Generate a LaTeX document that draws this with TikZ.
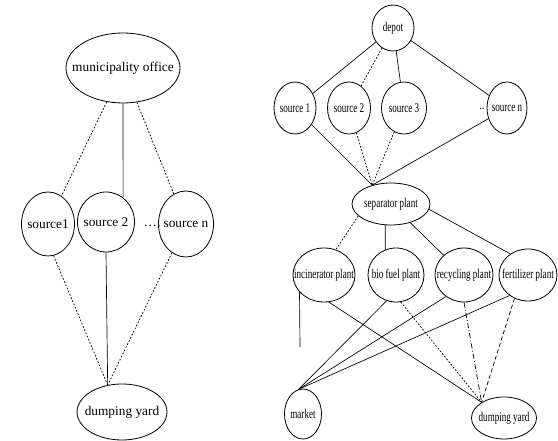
\documentclass[tikz,border=0pt]{standalone}
\usepackage{fontspec}
\setmainfont{Liberation Serif}
\usetikzlibrary{shapes.geometric}
\tikzset{
  el/.style 2 args={ellipse, draw, line width=0.6pt, minimum width=#1*0.75pt, minimum height=#2*0.75pt, inner sep=0pt, font=\fontsize{10}{12}\selectfont},
  conn/.style={line width=0.5pt},
  dots/.style={line width=0.55pt, dash pattern=on 1.3pt off 1.3pt},
  dashln/.style={line width=0.55pt, dash pattern=on 3pt off 2pt},
  dashdot/.style={line width=0.55pt, dash pattern=on 4pt off 1.5pt on 0.8pt off 1.5pt},
  plain/.style={inner sep=0pt, font=\fontsize{10}{12}\selectfont}
}
\newcommand{\nt}[1]{\makebox[0pt]{#1}}
\newcommand{\rt}[1]{\makebox[0pt]{\scalebox{0.68}[1]{#1}}}
\begin{document}
\begin{tikzpicture}[x=0.75pt, y=-0.75pt]
\useasboundingbox (0,0) rectangle (558,441);
\fill[white] (0,0) rectangle (558,441);
% ---------- left diagram ----------
\node[el={114}{70}] (mo) at (123,68) {\nt{municipality office}};
\node[el={53}{64}] (s1) at (48,224) {\nt{source1}};
\node[el={57}{60}] (s2) at (106,222) {\nt{source 2}};
\node[el={55}{66}] (sn) at (186,224) {\nt{source n}};
\node[plain] (dl) at (152,227) {\dots,};
\node[el={90}{56}] (dy) at (122,412) {\nt{dumping yard}};
\draw[dots] (mo) -- (s1);
\draw[conn] (mo.south) -- (s2.55);
\draw[dots] (mo) -- (sn);
\draw[dots] (s1.-80) -- (dy.118);
\draw[conn] (s2.south) -- (dy.118);
\draw[dots] (sn) -- (dy.118);
% ---------- right diagram ----------
\node[el={42}{46}] (depot) at (393,28) {\rt{depot}};
\node[el={42}{52}] (r1) at (295,108) {\rt{source 1}};
\node[el={43}{52}] (r2) at (349,108) {\rt{source 2}};
\node[el={45}{52}] (r3) at (404,108) {\rt{source 3}};
\node[el={40}{52}] (rn) at (507,108) {\rt{source n}};
\node[plain] (rdots) at (482,109) {\scalebox{0.68}[1]{..}};
\node[el={78}{42}] (sep) at (391,204) {\rt{separator plant}};
\node[el={62}{54}] (inc) at (324,275) {\rt{incinerator plant}};
\node[el={56}{54}] (bio) at (396,275) {\rt{bio fuel plant}};
\node[el={58}{54}] (rec) at (464,275) {\rt{recycling plant}};
\node[el={58}{52}] (fer) at (528,275) {\rt{fertilizer plant}};
\node[el={37}{50}] (mkt) at (303,414) {\rt{market}};
\node[el={65}{42}] (dump) at (504,418) {\rt{dumping yard}};
\coordinate (incstub) at (300,347);
% depot to sources
\draw[conn] (depot) -- (r1);
\draw[dots] (depot) -- (r2);
\draw[conn] (depot) -- (r3);
\draw[conn] (depot) -- (rn);
% sources to separator
\draw[conn] (r1) -- (sep.135);
\draw[dots] (r2) -- (sep.135);
\draw[dots] (r3) -- (sep.135);
\draw[conn] (rn) -- (sep.135);
% separator to plants
\draw[dots] (sep.200) -- (inc.65);
\draw[conn] (sep.255) -- (bio.113);
\draw[conn] (sep) -- (rec);
\draw[conn] (sep.-8) -- (fer.130);
% plants to market / dumping yard
\draw[conn] (inc.215) -- (incstub);
\draw[conn] (inc.-80) -- (dump.145);
\draw[conn] (bio.-110) -- (mkt.100);
\draw[dots] (bio.-80) -- (dump.145);
\draw[conn] (rec.230) -- (mkt.100);
\draw[dashdot] (rec.-90) -- (dump.145);
\draw[conn] (fer.228) -- (mkt.100);
\draw[dashln] (fer.240) -- (dump.145);
\end{tikzpicture}
\end{document}
